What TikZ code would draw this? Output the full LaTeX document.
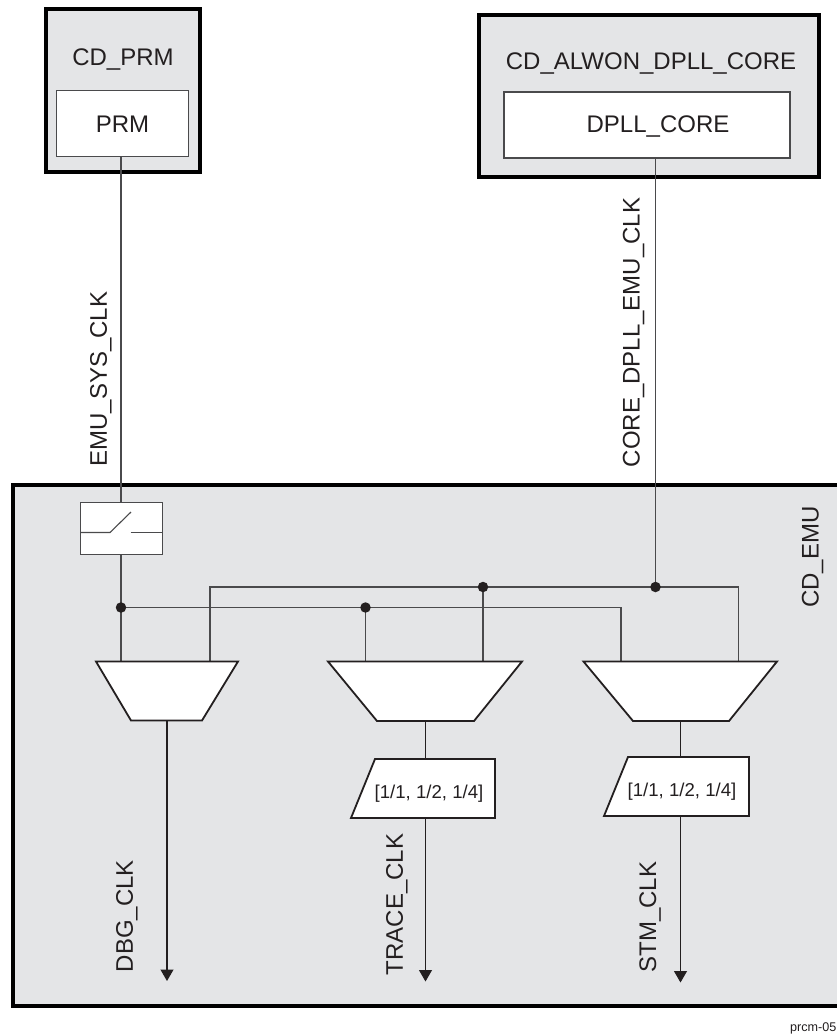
\documentclass[tikz,border=0pt]{standalone}
\usepackage{fontspec}
\setmainfont{Liberation Sans}
\usetikzlibrary{arrows.meta}
\definecolor{boxgray}{HTML}{E4E5E7}
\definecolor{linegray}{HTML}{4A4A4C}
\definecolor{inkc}{HTML}{231F20}
\tikzset{
  x=1pt,y=-1pt,
  domainbox/.style={draw=black,line width=4pt,fill=boxgray},
  innerbox/.style={draw=linegray,line width=1.1pt,fill=white},
  muxshape/.style={draw=inkc,line width=1.8pt,fill=white,line join=miter},
  wire/.style={draw=linegray,line width=1.1pt},
  outwire/.style={draw=inkc,line width=1.1pt},
  outarrow/.style={outwire,-{Triangle[length=11.5pt,width=13pt]}},
  dot/.style={circle,fill=inkc,draw=none,inner sep=0pt,minimum size=10.5pt},
  lab/.style={text=inkc,font=\fontsize{24}{24}\selectfont,inner sep=0pt},
  smalllab/.style={text=inkc,font=\fontsize{18.6}{18.6}\selectfont,inner sep=0pt},
}
\begin{document}
\begin{tikzpicture}
\useasboundingbox (0,0) rectangle (836,1034);
\fill[white] (0,0) rectangle (836,1034);
% domains
\draw[domainbox] (46,9) rectangle (200,172);
\draw[domainbox] (479,15) rectangle (819,177);
\draw[domainbox] (840,485) -- (13,485) -- (13,1006) -- (840,1006);
\node[lab] (cdprm) at (123,59.5) {CD\_PRM};
\node[lab] (cdcore) at (651,63.5) {CD\_ALWON\_DPLL\_CORE};
\node[innerbox,minimum width=132pt,minimum height=66pt,inner sep=0pt] (prm) at (122.5,123.5) {};
\node[lab] (prmtext) at (122.5,124) {PRM};
\node[innerbox,minimum width=286pt,minimum height=66pt,inner sep=0pt] (core) at (647,125) {};
\node[lab] (coretext) at (658,126.5) {DPLL\_CORE};
\node[lab,rotate=90] (emuclk) at (101,379) {EMU\_SYS\_CLK};
\node[lab,rotate=90] (coreclk) at (633.5,332.5) {CORE\_DPLL\_EMU\_CLK};
\node[lab,rotate=90] (cdemu) at (812.5,557) {CD\_EMU};
% switch
\node[innerbox,minimum width=82pt,minimum height=52pt,inner sep=0pt,anchor=north west] (sw) at (80,502) {};
\draw[wire] (sw.west |- 0,532.5) -- (110,532.5) -- (131,512);
\draw[wire] (130.5,532.5) -- (sw.east |- 0,532.5);
% junctions
\coordinate (jA) at (121,607.5);
\coordinate (jB) at (365.5,607.5);
\coordinate (jC) at (483,587);
\coordinate (jD) at (655.5,587);
% wires
\draw[wire] (121,156.5) -- (121,502);
\draw[wire] (121,554) -- (121,661);
\draw[wire] (jA) -- (621,607.5) -- (621,661);
\draw[wire] (210,661) -- (210,587) -- (738.5,587) -- (738.5,661);
\draw[wire] (jB) -- (365.5,661);
\draw[wire] (jC) -- (483,661);
\draw[wire] (655.5,158) -- (jD);
% muxes
\draw[muxshape] (96,661.5) -- (238,661.5) -- (202,720.5) -- (131,720.5) -- cycle;
\draw[muxshape] (328,661.5) -- (522,661.5) -- (474,721) -- (377,721) -- cycle;
\draw[muxshape] (583.5,661.5) -- (777,661.5) -- (729,721) -- (633,721) -- cycle;
% outputs
\draw[outarrow] (167,721) -- (167,981);
\draw[outwire] (425.5,721) -- (425.5,759);
\draw[outarrow] (425.5,818) -- (425.5,981.5);
\draw[outwire] (680.5,721) -- (680.5,757);
\draw[outarrow] (680.5,816) -- (680.5,982.5);
% dividers
\draw[muxshape] (375,759) -- (495,759) -- (495,818) -- (351,818) -- cycle;
\draw[muxshape] (628,757) -- (749,757) -- (749,816) -- (604,816) -- cycle;
\node[smalllab] (d1) at (429,793.5) {[1/1, 1/2, 1/4]};
\node[smalllab] (d2) at (682,791.5) {[1/1, 1/2, 1/4]};
\node[lab,rotate=90] (dbg) at (127,916) {DBG\_CLK};
\node[lab,rotate=90] (trace) at (397,904.5) {TRACE\_CLK};
\node[lab,rotate=90] (stm) at (650,917) {STM\_CLK};
\node[dot] at (jA) {};
\node[dot] at (jB) {};
\node[dot] at (jC) {};
\node[dot] at (jD) {};
\node[text=inkc,font=\fontsize{12.6}{12.6}\selectfont,inner sep=0pt,anchor=west] (ref) at (790,1028) {prcm-05};
\end{tikzpicture}
\end{document}
